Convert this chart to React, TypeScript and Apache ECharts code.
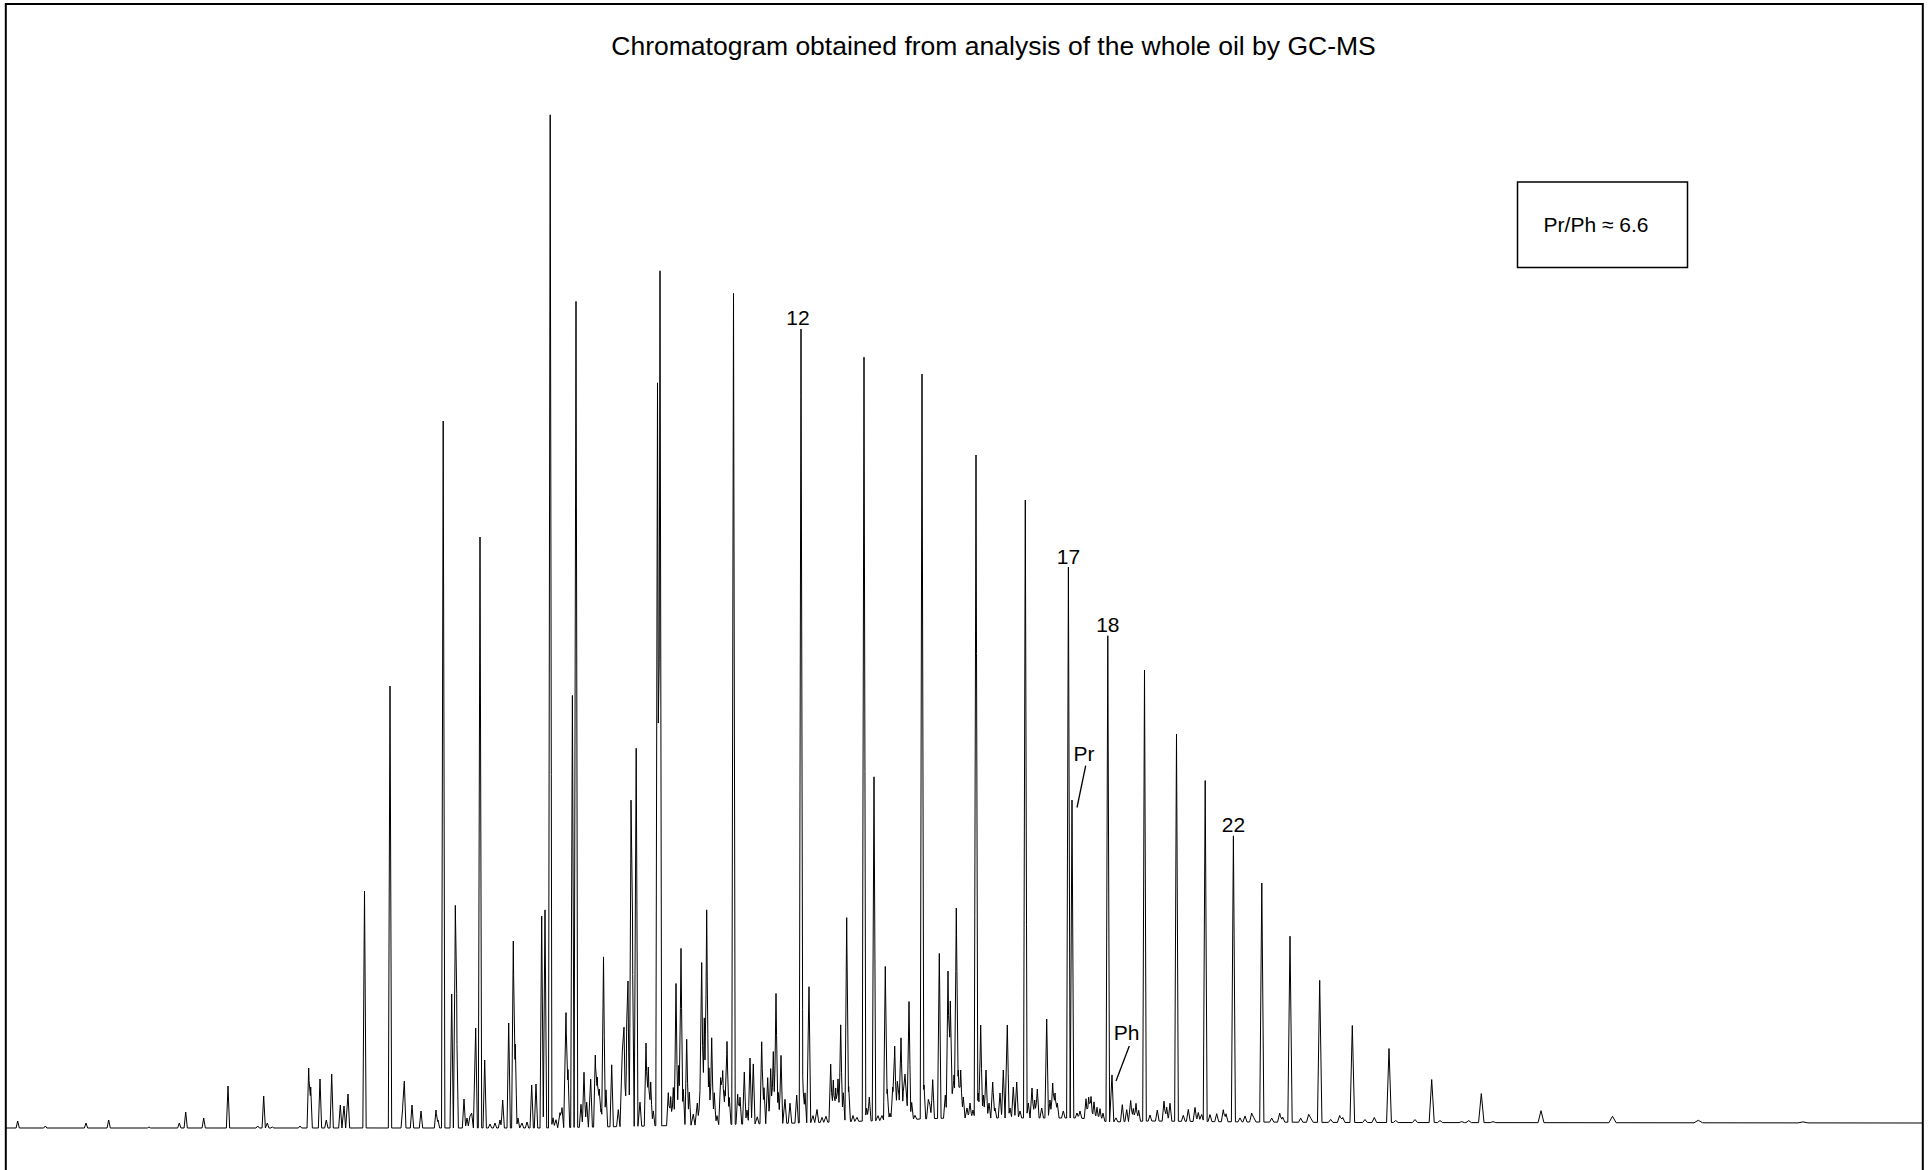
import React, { useEffect, useRef } from "react";
import * as echarts from "echarts";

const TITLE = "Chromatogram obtained from analysis of the whole oil by GC-MS";
const RATIO_TEXT = "Pr/Ph \u2248 6.6";

// scan (retention) axis and abundance axis ranges
const SCAN_MIN = 0;
const SCAN_MAX = 1930;
const TRACE_START = 6;
const TRACE_END = 1922;
const ABUND_MAX = 1020;

// baseline drift (scan, abundance)
const baselineScan = [6, 540, 600, 700, 800, 870, 950, 1000, 1080, 1110, 1150, 1250, 1350, 1922];
const baselineLevel = [0, 0, 1, 3, 5, 7, 10, 10, 10, 6, 7, 6, 5.5, 5];

// peak half-width vs scan
const widthScan = [0, 1150, 1300, 1450, 1550, 1650, 1800, 1930];
const widthHalf = [1.6, 1.8, 2.2, 2.6, 3, 4, 5, 5];

// peak apex scans and heights above baseline
const peakScan = [
  17.7, 45.3, 86, 108.7, 149, 179.3, 185.7, 203.7, 228, 257.7, 263.7, 267.3, 272.3, 300,
  308.7, 310.7, 320, 326.3, 331.7, 340.3, 344, 348, 364.5, 390, 402.7, 404.3, 412, 421, 436, 438,
  443.2, 451.7, 455.3, 456.7, 464, 467, 470, 471.7, 475.7, 480, 484.7, 490, 495, 500, 502.7,
  508.7, 513.3, 515.3, 518, 522, 527, 531.7, 536, 541.7, 545, 550.2, 553, 556, 560, 562, 566,
  568, 572.4, 576, 581, 584, 586.7, 590.7, 595.3, 597.3, 599.3, 601.3, 603.5, 606,
  611.7, 618.3, 622.3, 624, 626.7, 628, 631, 632.5, 636.2, 640, 646, 648.3, 650.7, 653.3,
  657.5, 660, 668.3, 670.7, 673.3, 676, 678.7, 681, 683.3, 686.7, 689.3, 693.3, 697.3, 700,
  701.7, 704.3, 706.7, 709, 711.7, 714.3, 717, 720.7, 722.7, 725, 727, 729.3, 733.5, 737.7,
  740, 744.3, 747, 750, 753.3, 757.3, 761.7, 764, 767.7, 770.7, 773.3, 776, 778.3, 781, 785,
  790, 796.7, 801, 802.6, 805, 809, 813, 817, 822, 826, 830.7, 833.3, 835.7, 838, 840.7, 843.3,
  846.7, 848.7, 853, 857, 864, 866.7, 869.3, 874, 878, 882, 885.3, 887.3, 890, 892.7, 894.7,
  897.3, 899, 901, 903.3, 905, 906.7, 909, 911.7, 915, 922, 924, 928.3,
  930, 932.7, 939.3, 945.3, 948, 950.3, 952, 954, 956.3, 958.3, 960.7, 963.3, 967, 970, 973,
  976, 978.3, 980.7, 983.3, 986, 989, 992.7, 995, 1000, 1003.3, 1007.3, 1010, 1013.3, 1016.7,
  1020, 1025.3, 1028.3, 1032, 1034.7, 1037.3, 1041.7, 1046.7, 1050, 1052.7, 1055, 1057.3,
  1063.3, 1068.4, 1072, 1077, 1080, 1086, 1088.7, 1091, 1094, 1097, 1100, 1103, 1107.8, 1112,
  1116, 1122.3, 1126.7, 1130.7, 1133.3, 1136, 1138.7, 1144.5, 1150, 1157.3, 1164, 1166.7, 1170,
  1176.5, 1183.3, 1188.3, 1195, 1198.3, 1201.7, 1205.2, 1210, 1216.7, 1223.3, 1226, 1233.4,
  1240, 1245,
  1251.7, 1254, 1261.8, 1271.7, 1279.7, 1282.7, 1290, 1300.7, 1308.7, 1311, 1319.7, 1330.7,
  1339.7, 1342.7, 1352.3, 1365, 1374.3, 1389, 1395.7, 1415, 1431.7, 1440, 1461.7, 1468.7,
  1481.3, 1493, 1541, 1612.5, 1698.3, 1803,
];
const peakHeight = [
  7, 2, 5, 8, 1, 5, 16, 10, 42, 2, 32, 5, 1, 2,
  60, 41, 49, 8, 54, 23, 22, 34, 237, 442, 20, 46, 23, 17, 18, 8,
  707, 134, 206, 100, 29, 10, 12, 15, 100, 591, 68, 4, 5, 8, 28,
  105, 187, 84, 10, 5, 6, 43, 44, 212, 218, 1013, 10, 8, 15, 20, 115,
  58, 432, 826, 23, 55, 25, 48, 72, 50, 38, 18, 170, 37,
  62, 17, 75, 99, 73, 128, 305, 173, 378, 24, 83, 59, 44, 15,
  743, 855, 33, 29, 38, 142, 60, 177, 36, 86, 33, 11, 22, 35,
  162, 107, 215, 57, 87, 32, 9, 47, 54, 34, 83, 27, 831, 30,
  27, 52, 14, 66, 60, 7, 82, 36, 46, 55, 72, 130, 31, 68, 24,
  20, 28, 790, 50, 30, 136, 7, 13, 5, 6, 58, 42, 34, 43, 97, 29,
  204, 35, 6, 4, 764, 13, 24, 344, 5, 5, 154, 31, 7, 33, 74,
  38, 23, 82, 27, 44, 20, 118, 17, 4, 745, 34, 19,
  13, 39, 165, 23, 147, 116, 28, 43, 210, 48, 48, 21, 10, 15, 8,
  663, 25, 93, 23, 48, 15, 36, 10, 25, 48, 93, 10, 31, 36,
  7, 618, 15, 30, 18, 29, 10, 99, 18, 35, 25, 15,
  7, 551, 318, 5, 7, 20, 22, 23, 18, 13, 12, 8, 486, 47,
  4, 17, 12, 21, 13, 18, 11, 451, 6, 11, 20, 14, 18,
  387, 6, 12, 14, 9, 7, 341, 7, 8, 12, 8, 286,
  4, 6,
  9, 5, 239, 4, 9, 5, 186, 4, 8, 4, 142, 3,
  7, 5, 97, 3, 5, 74, 2, 3, 43, 2, 1, 2,
  29, 1, 12, 6.5, 2.5, 1,
];

// annotated peaks
const labelNames = ["12", "17", "Pr", "18", "Ph", "22"];
const labelScans = [801, 1068.4, 1072, 1107.8, 1112, 1233.4];

function knot(xs: number[], ys: number[], x: number): number {
  if (x <= xs[0]) return ys[0];
  for (let i = 1; i < xs.length; i++) {
    if (x <= xs[i]) {
      const t = (x - xs[i - 1]) / (xs[i] - xs[i - 1]);
      return ys[i - 1] + t * (ys[i] - ys[i - 1]);
    }
  }
  return ys[ys.length - 1];
}

function signal(x: number): number {
  let v = knot(baselineScan, baselineLevel, x);
  for (let i = 0; i < peakScan.length; i++) {
    const w = knot(widthScan, widthHalf, peakScan[i]);
    const d = Math.abs(x - peakScan[i]);
    if (d < w) v += peakHeight[i] * (1 - d / w);
  }
  return v;
}

function buildTrace(): number[][] {
  const xs: number[] = [TRACE_START, TRACE_END];
  baselineScan.forEach((s) => xs.push(s));
  peakScan.forEach((s) => {
    const w = knot(widthScan, widthHalf, s);
    xs.push(s - w, s, s + w);
  });
  const uniq = Array.from(new Set(xs.map((x) => Math.round(x * 1000) / 1000)))
    .filter((x) => x >= TRACE_START && x <= TRACE_END)
    .sort((a, b) => a - b);
  return uniq.map((x) => [x, signal(x)]);
}

const FONT = '"Liberation Sans", Arial, Helvetica, sans-serif';

export default function App() {
  const ref = useRef<HTMLDivElement>(null);
  useEffect(() => {
    document.body.style.margin = "0";
    const chart = echarts.init(ref.current!, null, { renderer: "svg" });
    chart.setOption({
      animation: false,
      backgroundColor: "#ffffff",
      grid: { left: 0, right: 0, top: 108, bottom: 42, containLabel: false },
      xAxis: {
        type: "value",
        min: SCAN_MIN,
        max: SCAN_MAX,
        show: false,
      },
      yAxis: {
        type: "value",
        min: 0,
        max: ABUND_MAX,
        show: false,
      },
      series: [
        {
          type: "line",
          data: buildTrace(),
          showSymbol: false,
          symbol: "none",
          smooth: false,
          silent: true,
          clip: false,
          lineStyle: { color: "#000000", width: 1 },
        },
      ],
    });

    const px = (s: number, v: number) =>
      chart.convertToPixel({ xAxisIndex: 0, yAxisIndex: 0 }, [s, v]) as number[];

    const graphics: any[] = [
      {
        type: "rect",
        shape: { x: 5.8, y: 4, width: 1917, height: 1300 },
        style: { fill: "none", stroke: "#000", lineWidth: 2 },
        silent: true,
      },
      {
        type: "text",
        x: 993.5,
        y: 45.5,
        style: {
          text: TITLE,
          fill: "#000",
          fontSize: 26.5,
          fontFamily: FONT,
          align: "center",
          verticalAlign: "middle",
          textAlign: "center",
          textVerticalAlign: "middle",
        },
      },
      {
        type: "rect",
        shape: { x: 1517.5, y: 182, width: 170, height: 85.5 },
        style: { fill: "#fff", stroke: "#000", lineWidth: 1.5 },
      },
      {
        type: "text",
        x: 1596,
        y: 224.5,
        style: {
          text: RATIO_TEXT,
          fill: "#000",
          fontSize: 21,
          fontFamily: FONT,
          align: "center",
          verticalAlign: "middle",
          textAlign: "center",
          textVerticalAlign: "middle",
        },
      },
    ];

    labelNames.forEach((name, i) => {
      const s = labelScans[i];
      const [x, y] = px(s, signal(s));
      const text = (tx: number, ty: number) => ({
        type: "text",
        x: tx,
        y: ty,
        style: {
          text: name,
          fill: "#000",
          fontSize: 21,
          fontFamily: FONT,
          align: "center",
          verticalAlign: "middle",
          textAlign: "center",
          textVerticalAlign: "middle",
        },
      });
      if (name === "Pr") {
        graphics.push(text(x + 12, y - 47));
        graphics.push({
          type: "line",
          shape: { x1: x + 5, y1: y + 7.5, x2: x + 13.7, y2: y - 34.4 },
          style: { stroke: "#000", lineWidth: 1.3 },
        });
      } else if (name === "Ph") {
        graphics.push(text(x + 14.5, y - 42));
        graphics.push({
          type: "line",
          shape: { x1: x + 4, y1: y + 6, x2: x + 17.3, y2: y - 29 },
          style: { stroke: "#000", lineWidth: 1.3 },
        });
      } else if (name === "12") {
        graphics.push(text(x - 3, y - 11));
      } else {
        graphics.push(text(x, y - 11));
      }
    });

    chart.setOption({ graphic: graphics });
    return () => chart.dispose();
  }, []);

  return (
    <div
      ref={ref}
      style={{ position: "absolute", left: 0, top: 0, width: 1930, height: 1170, background: "#fff" }}
    />
  );
}
